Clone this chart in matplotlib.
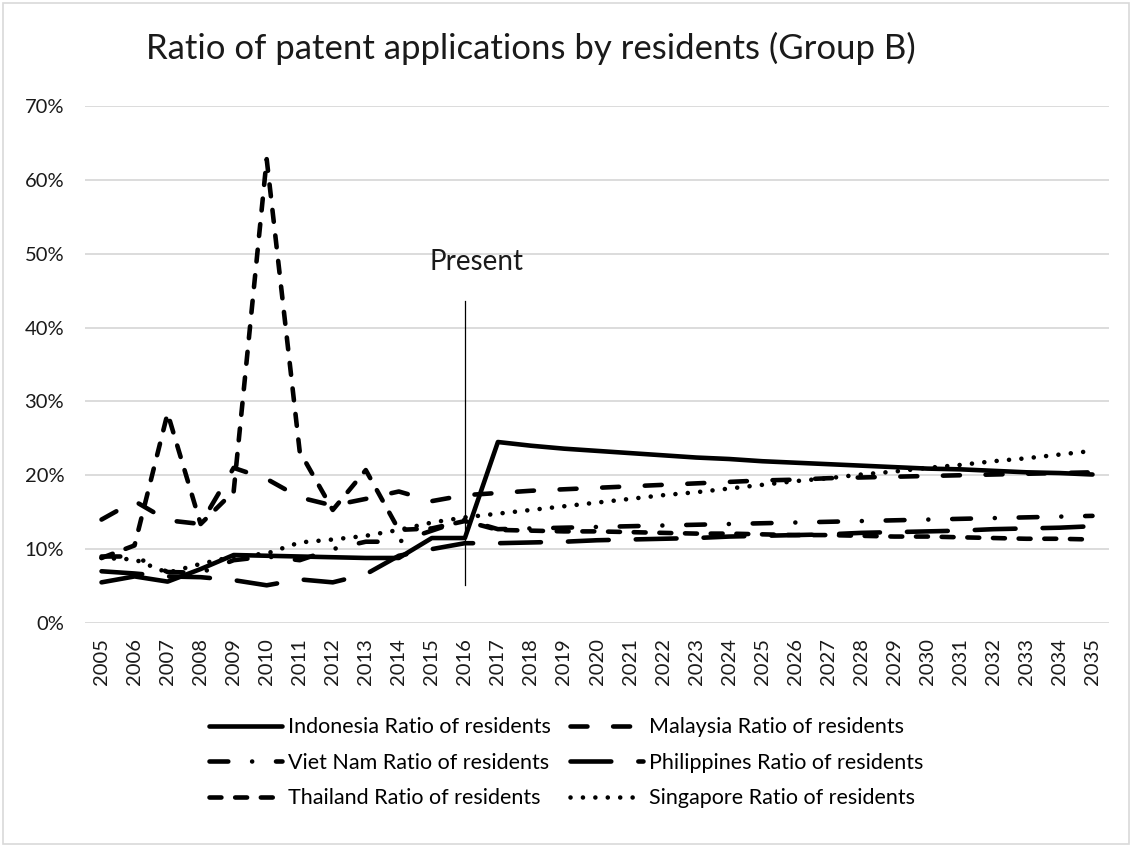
import matplotlib
matplotlib.use('Agg')
import matplotlib.pyplot as plt
from matplotlib.ticker import PercentFormatter, MultipleLocator
from matplotlib.patches import Rectangle

plt.rcParams['font.family'] = ['Lato', 'DejaVu Sans']

years = list(range(2005, 2036))

# ratio of resident applications, in percent
indonesia = [5.5, 6.3, 5.6, 7.3, 9.2, 9.1, 9.0, 8.9, 8.8, 8.8, 11.5, 11.5,
             24.5, 24.0, 23.6, 23.3, 23.0, 22.7, 22.4, 22.2, 21.9, 21.7, 21.5,
             21.3, 21.1, 20.9, 20.8, 20.6, 20.4, 20.3, 20.1]
malaysia = [14.0, 16.5, 13.9, 13.4, 21.0, 19.5, 17.0, 15.9, 16.8, 17.8, 16.5, 17.3,
            17.6, 17.9, 18.1, 18.3, 18.5, 18.7, 18.9, 19.1, 19.3, 19.4, 19.6,
            19.7, 19.8, 19.9, 20.0, 20.1, 20.2, 20.3, 20.4]
vietnam = [9.0, 9.0, 6.9, 6.8, 8.5, 9.0, 8.5, 10.0, 11.0, 11.0, 12.5, 14.0,
           12.7, 12.8, 12.9, 13.0, 13.1, 13.2, 13.3, 13.4, 13.5, 13.6, 13.7,
           13.8, 13.9, 14.0, 14.1, 14.2, 14.3, 14.4, 14.5]
philippines = [7.0, 6.7, 6.3, 6.2, 5.8, 5.1, 5.9, 5.5, 6.6, 9.1, 10.0, 10.8,
               10.8, 10.9, 11.0, 11.2, 11.3, 11.4, 11.5, 11.7, 11.8, 11.9, 12.0,
               12.2, 12.3, 12.4, 12.5, 12.7, 12.8, 12.9, 13.1]
thailand = [8.8, 10.5, 28.4, 13.4, 17.8, 62.8, 23.2, 15.3, 20.7, 12.6, 12.8, 13.8,
            12.6, 12.5, 12.4, 12.4, 12.3, 12.2, 12.1, 12.1, 12.0, 11.9, 11.9,
            11.8, 11.7, 11.7, 11.6, 11.5, 11.4, 11.4, 11.3]
singapore = [8.8, 8.6, 6.8, 8.0, 9.0, 9.4, 10.9, 11.3, 11.8, 12.6, 13.6, 14.3,
             14.8, 15.3, 15.8, 16.3, 16.8, 17.3, 17.7, 18.2, 18.7, 19.2, 19.6,
             20.1, 20.5, 21.0, 21.4, 21.9, 22.3, 22.8, 23.3]

labels = ['Indonesia Ratio of residents', 'Malaysia Ratio of residents',
          'Viet Nam Ratio of residents', 'Philippines Ratio of residents',
          'Thailand Ratio of residents', 'Singapore Ratio of residents']

present_year = 2016
present_span = (5.1, 43.6)

series = [indonesia, malaysia, vietnam, philippines, thailand, singapore]
dash_styles = [None, (3.7, 5.6), (4.1, 5.2, 0.01, 5.2), (8.9, 5.9),
               (2.6, 3.0), (0.01, 2.7)]

fig = plt.figure(figsize=(11.32, 8.47), dpi=100)
ax = fig.add_axes([0.0751, 0.2645, 0.9046, 0.6104])

lines = []
for vals, lab, ds in zip(series, labels, dash_styles):
    if ds is None:
        ln, = ax.plot(years, vals, color='black', lw=3.3, solid_capstyle='round',
                      solid_joinstyle='round', label=lab)
    else:
        ln, = ax.plot(years, vals, color='black', lw=3.3, dashes=ds,
                      dash_capstyle='round', dash_joinstyle='round', label=lab)
    lines.append(ln)

ax.plot([present_year, present_year], present_span, color='black', lw=0.9)
ax.text(present_year + 0.35, 48.9, 'Present', fontsize=20, ha='center',
        va='center', color='#1a1a1a')

ax.set_xlim(2004.5, 2035.5)
ax.set_ylim(0, 70)
ax.yaxis.set_major_locator(MultipleLocator(10))
ax.yaxis.set_major_formatter(PercentFormatter(decimals=0))
ax.set_xticks(years)
ax.set_xticklabels([str(y) for y in years], rotation=90)
ax.tick_params(axis='both', length=0, labelsize=14.5, colors='#1a1a1a')
ax.tick_params(axis='y', pad=15)
ax.tick_params(axis='x', pad=11)
ax.grid(axis='y', color='#d9d9d9', lw=1.3)
ax.set_axisbelow(True)
for s in ax.spines.values():
    s.set_visible(False)

fig.text(0.469, 0.943, 'Ratio of patent applications by residents (Group B)',
         fontsize=25, ha='center', va='center', color='#1a1a1a')

# legend: row order is Indonesia/Malaysia, Viet Nam/Philippines, Thailand/Singapore
order = [0, 2, 4, 1, 3, 5]
fig.legend([lines[i] for i in order], [labels[i] for i in order],
           loc='center', bbox_to_anchor=(0.5, 0.0995), ncol=2, frameon=False,
           fontsize=15.5, handlelength=3.4, handletextpad=0.25,
           columnspacing=0.9, labelspacing=0.72)

fig.patches.append(Rectangle((0.003, 0.003), 0.994, 0.994, transform=fig.transFigure,
                             fill=False, edgecolor='#d9d9d9', lw=1.2))

fig.savefig('out.png', dpi=100)
